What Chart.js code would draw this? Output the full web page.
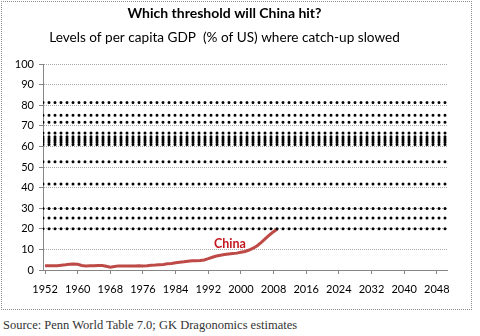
<!DOCTYPE html>
<html>
<head>
<meta charset="utf-8">
<script src="https://cdn.jsdelivr.net/npm/chart.js@4.4.1/dist/chart.umd.min.js"></script>
<style>
  body { margin: 0; background: #fff; width: 480px; height: 336px; position: relative; overflow: hidden; }
  #frame {
    position: absolute; left: 1px; top: 1px;
    width: 469px; height: 307px;
    border: 1px dotted #8c8c8c;
  }
  #frame canvas { display: block; }
  #source {
    position: absolute; left: 3px; top: 318px;
    font: 12.5px "Liberation Serif", "DejaVu Serif", serif;
    color: #333;
    white-space: nowrap;
  }
</style>
</head>
<body>
<div id="frame"><canvas id="catchupChart" width="469" height="307"></canvas></div>
<div id="source">Source: Penn World Table 7.0; GK Dragonomics estimates</div>

<script>
// ---- data ----
const years = [
  1952, 1953, 1954, 1955, 1956, 1957, 1958, 1959, 1960, 1961,
  1962, 1963, 1964, 1965, 1966, 1967, 1968, 1969, 1970, 1971,
  1972, 1973, 1974, 1975, 1976, 1977, 1978, 1979, 1980, 1981,
  1982, 1983, 1984, 1985, 1986, 1987, 1988, 1989, 1990, 1991,
  1992, 1993, 1994, 1995, 1996, 1997, 1998, 1999, 2000, 2001,
  2002, 2003, 2004, 2005, 2006, 2007, 2008, 2009
];

// China GDP per capita, % of US level
const chinaPct = [
  2.1, 2.1, 2.1, 2.1, 2.3, 2.5, 2.8, 2.9, 2.8, 2.2,
  2.0, 2.1, 2.1, 2.2, 2.2, 1.8, 1.4, 1.7, 2.0, 2.0,
  2.0, 2.0, 2.0, 2.1, 2.0, 2.1, 2.3, 2.4, 2.6, 2.7,
  3.0, 3.2, 3.5, 3.8, 4.0, 4.3, 4.5, 4.5, 4.6, 4.9,
  5.5, 6.2, 6.8, 7.2, 7.5, 7.8, 8.0, 8.2, 8.6, 9.0,
  9.7, 10.6, 11.8, 13.4, 15.2, 17.0, 18.6, 20.0
];

// income levels (% of US) at which other economies' catch-up slowed
const thresholds = [81.3, 75.2, 71.8, 66.5, 64.7, 63.8, 62.9, 62.0, 61.0, 52.6, 41.8, 29.9, 25.2, 20.0];

const yearMin = 1951.5;
const yearMax = 2050.5;
const yTicksMax = 100;

// where the series name sits
const chinaLabel = { text: 'China', year: 1997.3, value: 12.8 };

// ---- datasets ----
const fontFamily = 'Lato, "Open Sans", sans-serif';
const axisGray = '#868686';

const thresholdSets = thresholds.map(level => ({
  data: [{ x: yearMin, y: level }, { x: yearMax, y: level }],
  borderColor: '#000',
  borderWidth: 3,
  borderDash: [0, 6],
  borderCapStyle: 'round',
  pointRadius: 0,
  fill: false
}));

const chinaSet = {
  label: 'China',
  data: years.map((yr, i) => ({ x: yr, y: chinaPct[i] })),
  borderColor: '#BE4A47',
  borderWidth: 3,
  pointRadius: 0,
  tension: 0,
  fill: false
};

// writes the series name next to the line
const seriesLabel = {
  id: 'seriesLabel',
  afterDatasetsDraw(chart) {
    const { ctx, scales } = chart;
    ctx.save();
    ctx.font = 'bold 12.5px ' + fontFamily;
    ctx.fillStyle = '#C3161C';
    ctx.textAlign = 'center';
    ctx.textBaseline = 'middle';
    ctx.fillText(chinaLabel.text,
      scales.x.getPixelForValue(chinaLabel.year),
      scales.y.getPixelForValue(chinaLabel.value));
    ctx.restore();
  }
};

new Chart(document.getElementById('catchupChart'), {
  type: 'line',
  data: { datasets: [...thresholdSets, chinaSet] },
  plugins: [seriesLabel],
  options: {
    responsive: false,
    animation: false,
    layout: { padding: { left: 0, right: 24, top: 0, bottom: 0 } },
    plugins: {
      legend: { display: false },
      tooltip: { enabled: false },
      title: {
        display: true,
        text: 'Which threshold will China hit?',
        color: '#000',
        font: { family: fontFamily, size: 14, weight: 'bold' },
        padding: { top: 3, bottom: 8 }
      },
      subtitle: {
        display: true,
        text: 'Levels of per capita GDP  (% of US) where catch-up slowed',
        color: '#000',
        font: { family: fontFamily, size: 13.6 },
        padding: { top: 0, bottom: 18 }
      }
    },
    scales: {
      x: {
        type: 'linear',
        min: yearMin,
        max: yearMax,
        afterFit: s => { s.height = 39; },
        ticks: {
          stepSize: 8,
          includeBounds: false,
          color: '#000',
          font: { family: fontFamily, size: 11 },
          padding: 9,
          maxRotation: 0,
          callback: v => String(v)
        },
        grid: { drawOnChartArea: false, drawTicks: true, tickLength: 4, color: axisGray },
        border: { color: axisGray }
      },
      y: {
        min: 0,
        max: yTicksMax,
        afterFit: s => { s.width = 41; },
        ticks: {
          stepSize: 10,
          color: '#000',
          font: { family: fontFamily, size: 11 },
          padding: 5
        },
        grid: {
          color: '#a6a6a6',
          tickColor: axisGray,
          tickLength: 4,
          tickBorderDash: []
        },
        border: { color: axisGray, dash: [1, 1] }
      }
    }
  }
});
</script>
</body>
</html>
